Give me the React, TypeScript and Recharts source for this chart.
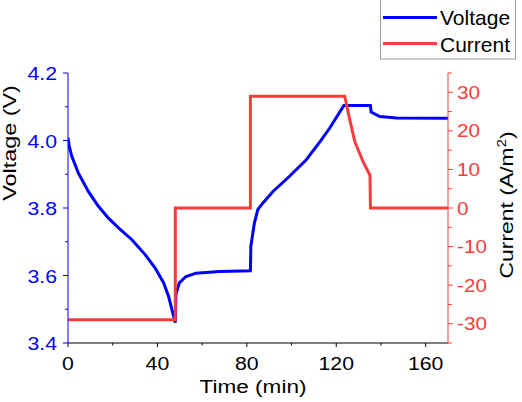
import React from 'react';
import { LineChart, Line, XAxis, YAxis } from 'recharts';

// ---- data ----
const timeTicks = [0, 20, 40, 60, 80, 100, 120, 140, 160];
const voltageTicks = [3.4, 3.5, 3.6, 3.7, 3.8, 3.9, 4.0, 4.1, 4.2];
const currentTicks = [-35, -30, -25, -20, -15, -10, -5, 0, 5, 10, 15, 20, 25, 30, 35];

const voltageTime = [0, 0.5, 1.7, 4.6, 9.1, 13.6, 18.1, 22.6, 28.6, 34.5, 39.0, 42.8, 45.0, 46.5, 48.0,
  48.3, 49.8, 52.8, 57.3, 67.7, 81.6, 81.8, 83.4, 84.9, 87.2, 91.7, 99.1, 106.6, 113.0, 117.1, 123.4,
  135.3, 135.6, 139.5, 147.0, 170];
const voltageValues = [4.008, 3.985, 3.953, 3.904, 3.849, 3.805, 3.770, 3.741, 3.706, 3.662, 3.622, 3.578, 3.538, 3.499, 3.460,
  3.545, 3.578, 3.597, 3.607, 3.612, 3.614, 3.686, 3.756, 3.795, 3.815, 3.849, 3.894, 3.943, 3.999, 4.037, 4.104,
  4.104, 4.084, 4.071, 4.067, 4.066];

const currentTime = [0, 48.0, 48.0, 81.6, 81.6, 123.8, 125.9, 128.3, 132.0, 135.1, 135.3, 170];
const currentValues = [-29, -29, 0, 0, 29, 29, 23.3, 17.2, 12.0, 8.5, 0, 0];

const voltageData = voltageTime.map((t, i) => ({ t, v: voltageValues[i] }));
const currentData = currentTime.map((t, i) => ({ t, c: currentValues[i] }));

// ---- styles ----
const FONT = "'Liberation Sans', Arial, sans-serif";
const BLUE = '#0000ff';
const RED = '#f83c3c';

const BottomTick = (props: any) => {
  const { x, y, payload } = props;
  const v = payload.value;
  const major = v % 40 === 0;
  return (
    <g>
      <line x1={x} x2={x} y1={y} y2={y + (major ? 4 : 2.5)} stroke="#000" strokeWidth={1} />
      {major && (
        <text transform={`translate(${x},${y + 27}) scale(1.15,1)`} textAnchor="middle" fontSize={18.5} fontFamily={FONT} fill="#000">
          {v}
        </text>
      )}
    </g>
  );
};

const TopTick = (props: any) => {
  const { x, y, payload } = props;
  const major = payload.value % 40 === 0;
  return <line x1={x} x2={x} y1={y} y2={y + (major ? 5 : 4)} stroke="#000" strokeWidth={1} />;
};

const LeftTick = (props: any) => {
  const { x, y, payload } = props;
  const v = payload.value;
  const major = Math.round(v * 10) % 2 === 0;
  return (
    <g>
      <line x1={x} x2={x - (major ? 5 : 3)} y1={y} y2={y} stroke={BLUE} strokeWidth={1} />
      {major && (
        <text transform={`translate(${x - 11},${y + 7}) scale(1.18,1)`} textAnchor="end" fontSize={18} fontFamily={FONT} fill={BLUE}>
          {v.toFixed(1)}
        </text>
      )}
    </g>
  );
};

const RightTick = (props: any) => {
  const { x, y, payload } = props;
  const v = payload.value;
  const major = v % 10 === 0;
  return (
    <g>
      <line x1={x} x2={x + (major ? 5 : 4)} y1={y} y2={y} stroke={RED} strokeWidth={1} />
      {major && (
        <text transform={`translate(${x + 9},${y + 6.5}) scale(1.15,1)`} textAnchor="start" fontSize={18} fontFamily={FONT} fill={RED}>
          {v}
        </text>
      )}
    </g>
  );
};

export default function App() {
  return (
    <div style={{ position: 'absolute', left: 0, top: 0, width: 522, height: 402, background: '#fff' }}>
      <LineChart
        width={522}
        height={402}
        margin={{ top: 73, right: 0, bottom: 0, left: 0 }}
        style={{ position: 'absolute', left: 0, top: 0 }}
      >
        <XAxis
          xAxisId="b"
          dataKey="t"
          type="number"
          domain={[0, 170]}
          allowDataOverflow
          ticks={timeTicks}
          interval={0}
          height={59}
          orientation="bottom"
          axisLine={{ stroke: '#000', strokeWidth: 1 }}
          tickLine={false}
          tickSize={0}
          tickMargin={0}
          tick={<BottomTick />}
        />
        <XAxis
          xAxisId="t"
          dataKey="t"
          type="number"
          domain={[0, 170]}
          allowDataOverflow
          ticks={timeTicks}
          interval={0}
          height={0}
          orientation="top"
          axisLine={{ stroke: '#000', strokeWidth: 1 }}
          tickLine={false}
          tickSize={0}
          tickMargin={0}
          tick={<TopTick />}
        />
        <YAxis
          yAxisId="v"
          type="number"
          domain={[3.4, 4.2]}
          allowDataOverflow
          ticks={voltageTicks}
          interval={0}
          width={68}
          orientation="left"
          axisLine={{ stroke: BLUE, strokeWidth: 1 }}
          tickLine={false}
          tickSize={0}
          tickMargin={0}
          tick={<LeftTick />}
        />
        <YAxis
          yAxisId="c"
          type="number"
          domain={[-35, 35]}
          allowDataOverflow
          ticks={currentTicks}
          interval={0}
          width={74}
          orientation="right"
          axisLine={{ stroke: RED, strokeWidth: 1 }}
          tickLine={false}
          tickSize={0}
          tickMargin={0}
          tick={<RightTick />}
        />
        <Line
          data={voltageData}
          xAxisId="b"
          yAxisId="v"
          dataKey="v"
          type="linear"
          stroke={BLUE}
          strokeWidth={3}
          dot={false}
          activeDot={false}
          isAnimationActive={false}
        />
        <Line
          data={currentData}
          xAxisId="b"
          yAxisId="c"
          dataKey="c"
          type="linear"
          stroke={RED}
          strokeWidth={3}
          dot={false}
          activeDot={false}
          isAnimationActive={false}
        />
      </LineChart>
      <svg width={522} height={402} style={{ position: 'absolute', left: 0, top: 0, pointerEvents: 'none' }}>
        {/* axis titles */}
        <text transform="translate(253,393) scale(1.22,1)" textAnchor="middle" fontSize={18.5} fontFamily={FONT} fill="#000">
          Time (min)
        </text>
        <text transform="translate(16,143) rotate(-90) scale(1.3,1)" textAnchor="middle" fontSize={18} fontFamily={FONT} fill="#000">
          Voltage (V)
        </text>
        <text transform="translate(513,205) rotate(-90) scale(1.24,1)" textAnchor="middle" fontSize={18.5} fontFamily={FONT} fill="#000">
          Current (A/m<tspan dy={-7} fontSize={12}>2</tspan><tspan dy={7}>)</tspan>
        </text>
        {/* legend */}
        <rect x={380.5} y={-1} width={135} height={60} fill="#fff" stroke="#9a9a9a" strokeWidth={1} />
        <line x1={383} x2={437} y1={17.5} y2={17.5} stroke={BLUE} strokeWidth={3} />
        <text x={440} y={25} fontSize={21} fontFamily={FONT} fill="#000">Voltage</text>
        <line x1={383} x2={437} y1={43.5} y2={43.5} stroke={RED} strokeWidth={3} />
        <text x={440} y={51.5} fontSize={21} fontFamily={FONT} fill="#000">Current</text>
      </svg>
    </div>
  );
}
